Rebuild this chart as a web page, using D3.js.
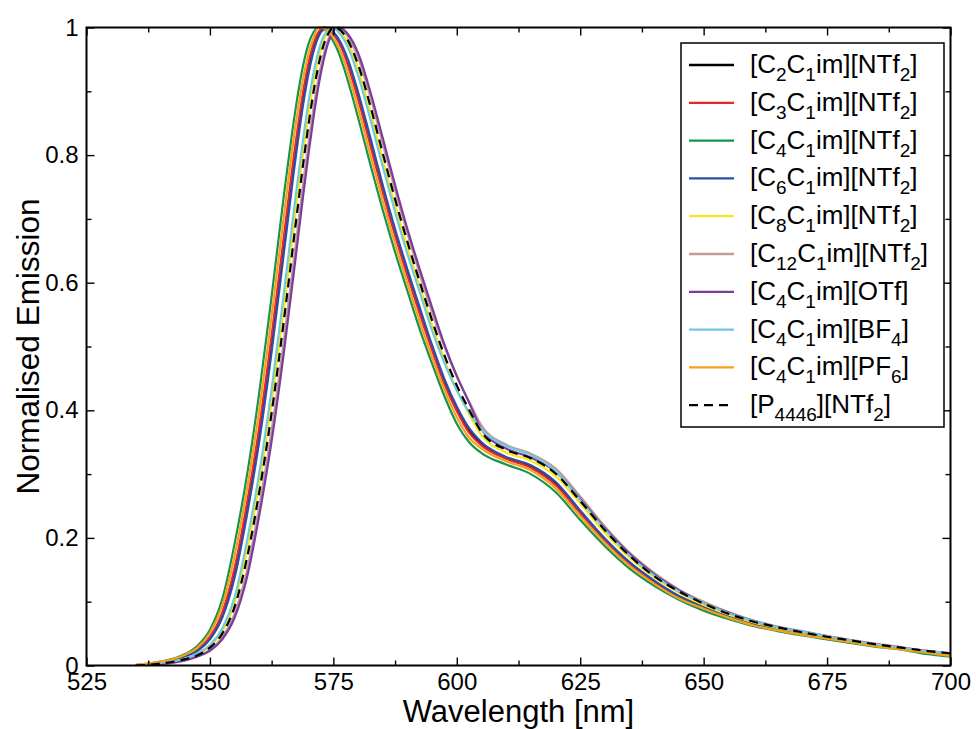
<!DOCTYPE html>
<html><head><meta charset="utf-8">
<script src="https://cdn.jsdelivr.net/npm/d3@7"></script>
<style>body{margin:0;background:#fff}</style>
</head><body>
<svg id="chart" width="976" height="729"></svg>
<script>
// ---------- DATA ----------
const wavelengths = [535,540,545,547.5,550,552.5,555,557.5,560,562.5,565,567.5,569,570,571,572,573,574,575,576,577,578,580,582.5,585,587.5,590,592.5,595,597.5,600,602.5,605,610,615,620,625,630,635,640,645,650,655,660,665,670,675,680,685,690,695,700];

const c2c1NTf2 = [0.000,0.005,0.015,0.024,0.043,0.079,0.145,0.245,0.363,0.505,0.661,0.815,0.895,0.937,0.969,0.989,1.000,0.998,0.992,0.980,0.965,0.944,0.893,0.821,0.748,0.679,0.616,0.556,0.498,0.446,0.402,0.368,0.348,0.325,0.312,0.286,0.241,0.198,0.160,0.131,0.108,0.091,0.076,0.065,0.056,0.049,0.043,0.037,0.031,0.026,0.021,0.017];
const c3c1NTf2 = [0.000,0.005,0.015,0.026,0.045,0.083,0.153,0.254,0.374,0.517,0.674,0.827,0.905,0.945,0.975,0.993,1.000,0.998,0.990,0.978,0.962,0.940,0.888,0.815,0.742,0.674,0.611,0.551,0.494,0.441,0.399,0.365,0.345,0.324,0.310,0.283,0.239,0.196,0.159,0.130,0.107,0.090,0.076,0.064,0.056,0.049,0.042,0.036,0.031,0.026,0.021,0.017];
const c4c1NTf2 = [0.001,0.006,0.018,0.031,0.056,0.104,0.191,0.298,0.428,0.579,0.738,0.880,0.945,0.975,0.993,1.000,0.998,0.990,0.978,0.962,0.940,0.915,0.859,0.785,0.714,0.648,0.587,0.527,0.473,0.422,0.379,0.350,0.333,0.315,0.300,0.272,0.228,0.187,0.152,0.125,0.103,0.086,0.073,0.062,0.054,0.047,0.041,0.035,0.029,0.025,0.018,0.014];
const c6c1NTf2 = [0.000,0.005,0.014,0.023,0.041,0.075,0.138,0.236,0.352,0.492,0.648,0.804,0.885,0.929,0.963,0.986,0.997,1.000,0.993,0.983,0.968,0.949,0.899,0.827,0.753,0.684,0.621,0.561,0.502,0.449,0.406,0.372,0.350,0.327,0.314,0.288,0.243,0.199,0.162,0.133,0.109,0.092,0.077,0.066,0.057,0.050,0.043,0.037,0.031,0.026,0.021,0.018];
const c8c1NTf2 = [0.000,0.003,0.010,0.017,0.030,0.053,0.098,0.181,0.285,0.412,0.560,0.719,0.810,0.865,0.913,0.951,0.979,0.994,1.000,0.996,0.988,0.975,0.935,0.868,0.794,0.722,0.656,0.594,0.534,0.479,0.432,0.394,0.361,0.334,0.321,0.297,0.254,0.208,0.169,0.138,0.114,0.095,0.080,0.068,0.059,0.052,0.045,0.038,0.032,0.027,0.022,0.018];
const c12c1NTf2 = [0.000,0.002,0.009,0.015,0.025,0.044,0.081,0.149,0.250,0.369,0.511,0.668,0.764,0.821,0.875,0.921,0.957,0.982,0.996,1.000,0.995,0.985,0.953,0.891,0.818,0.745,0.677,0.613,0.553,0.500,0.453,0.414,0.376,0.346,0.332,0.309,0.265,0.218,0.177,0.145,0.119,0.100,0.084,0.071,0.061,0.054,0.046,0.040,0.034,0.029,0.023,0.019];
const c4c1OTf = [0.000,0.002,0.008,0.014,0.023,0.041,0.075,0.138,0.236,0.352,0.492,0.648,0.744,0.804,0.860,0.909,0.948,0.977,0.994,1.000,0.997,0.989,0.960,0.899,0.827,0.753,0.684,0.621,0.561,0.503,0.454,0.412,0.370,0.340,0.326,0.304,0.261,0.215,0.175,0.143,0.118,0.098,0.083,0.070,0.060,0.053,0.046,0.039,0.033,0.028,0.023,0.019];
const c4c1BF4 = [0.000,0.004,0.011,0.019,0.032,0.058,0.107,0.195,0.302,0.433,0.585,0.744,0.832,0.885,0.929,0.963,0.986,0.997,1.000,0.993,0.983,0.968,0.925,0.856,0.782,0.711,0.645,0.585,0.525,0.474,0.431,0.397,0.370,0.344,0.330,0.305,0.259,0.213,0.172,0.141,0.116,0.098,0.082,0.070,0.060,0.053,0.046,0.039,0.033,0.028,0.023,0.019];
const c4c1PF6 = [0.001,0.006,0.017,0.028,0.051,0.094,0.172,0.276,0.401,0.548,0.706,0.855,0.925,0.960,0.984,1.000,0.999,0.994,0.984,0.970,0.951,0.928,0.874,0.800,0.728,0.661,0.599,0.539,0.483,0.432,0.389,0.357,0.340,0.320,0.306,0.278,0.234,0.192,0.156,0.128,0.105,0.089,0.075,0.063,0.055,0.048,0.042,0.036,0.030,0.025,0.020,0.015];
const p4446NTf2 = [0.000,0.003,0.010,0.016,0.028,0.050,0.092,0.168,0.272,0.396,0.542,0.700,0.793,0.849,0.900,0.941,0.972,0.991,1.000,0.998,0.991,0.979,0.942,0.877,0.803,0.731,0.664,0.601,0.541,0.486,0.439,0.401,0.366,0.338,0.325,0.301,0.258,0.212,0.172,0.140,0.116,0.097,0.081,0.069,0.060,0.052,0.045,0.039,0.033,0.028,0.023,0.019];

// legend labels as [text, isSubscript] segments
const legendLabels = [
  [["[C",0],["2",1],["C",0],["1",1],["im][NTf",0],["2",1],["]",0]],
  [["[C",0],["3",1],["C",0],["1",1],["im][NTf",0],["2",1],["]",0]],
  [["[C",0],["4",1],["C",0],["1",1],["im][NTf",0],["2",1],["]",0]],
  [["[C",0],["6",1],["C",0],["1",1],["im][NTf",0],["2",1],["]",0]],
  [["[C",0],["8",1],["C",0],["1",1],["im][NTf",0],["2",1],["]",0]],
  [["[C",0],["12",1],["C",0],["1",1],["im][NTf",0],["2",1],["]",0]],
  [["[C",0],["4",1],["C",0],["1",1],["im][OTf]",0]],
  [["[C",0],["4",1],["C",0],["1",1],["im][BF",0],["4",1],["]",0]],
  [["[C",0],["4",1],["C",0],["1",1],["im][PF",0],["6",1],["]",0]],
  [["[P",0],["4446",1],["][NTf",0],["2",1],["]",0]]
];
const seriesValues = [c2c1NTf2,c3c1NTf2,c4c1NTf2,c6c1NTf2,c8c1NTf2,c12c1NTf2,c4c1OTf,c4c1BF4,c4c1PF6,p4446NTf2];
const seriesColors = ["#000000","#e8262b","#17944a","#2f4fa8","#f6e81a","#c29a9a","#7b3c9c","#72c8dd","#f5a11c","#000000"];
const seriesDash = [null,null,null,null,null,null,null,null,null,"9,6"];

const xTicks = [525,550,575,600,625,650,675,700];
const xMinorTicks = [537.5,562.5,587.5,612.5,637.5,662.5,687.5];
const yTicks = [0,0.2,0.4,0.6,0.8,1];
const yTickLabels = ["0","0.2","0.4","0.6","0.8","1"];
const yMinorTicks = [0.1,0.3,0.5,0.7,0.9];
const xTitle = "Wavelength [nm]";
const yTitle = "Normalised Emission";

// ---------- CHART ----------
const svg = d3.select("#chart");
const L = 86.5, R = 950.5, T = 27.5, B = 665.5;
const x = d3.scaleLinear().domain([525,700]).range([L,R]);
const y = d3.scaleLinear().domain([0,1]).range([B,T]);
const font = "'Liberation Sans', Arial, Helvetica, sans-serif";

svg.append("defs").append("clipPath").attr("id","clip")
  .append("rect").attr("x",L).attr("y",T-2).attr("width",R-L).attr("height",B-T+2);

// lines
const line = d3.line().x(d=>x(d[0])).y(d=>y(d[1])).curve(d3.curveMonotoneX);
const lg = svg.append("g").attr("clip-path","url(#clip)");
seriesValues.forEach((vals,i)=>{
  const pts = wavelengths.map((w,j)=>[w,vals[j]]);
  lg.append("path").attr("d",line(pts)).attr("fill","none")
    .attr("stroke",seriesColors[i]).attr("stroke-width",2.2)
    .attr("stroke-linejoin","round")
    .attr("stroke-dasharray",seriesDash[i]);
});

// axes
function styleAxis(g){
  g.select(".domain").remove();
  g.selectAll(".tick line").attr("stroke","#000").attr("stroke-width",1.4);
  g.selectAll("text").attr("font-family",font).attr("font-size",24).attr("fill","#000");
}
svg.append("g").attr("transform",`translate(0,${B})`)
  .call(d3.axisBottom(x).tickValues(xTicks).tickSize(-8).tickPadding(7.5).tickFormat(d3.format("d")))
  .call(styleAxis);
svg.append("g").attr("transform",`translate(0,${B})`)
  .call(d3.axisBottom(x).tickValues(xMinorTicks).tickSize(-5).tickFormat(""))
  .call(styleAxis);
svg.append("g").attr("transform",`translate(0,${T})`)
  .call(d3.axisTop(x).tickValues(xTicks).tickSize(-8).tickFormat(""))
  .call(styleAxis);
svg.append("g").attr("transform",`translate(0,${T})`)
  .call(d3.axisTop(x).tickValues(xMinorTicks).tickSize(-5).tickFormat(""))
  .call(styleAxis);
svg.append("g").attr("transform",`translate(${L},0)`)
  .call(d3.axisLeft(y).tickValues(yTicks).tickSize(-8).tickPadding(8).tickFormat((d,i)=>yTickLabels[i]))
  .call(styleAxis);
svg.append("g").attr("transform",`translate(${L},0)`)
  .call(d3.axisLeft(y).tickValues(yMinorTicks).tickSize(-5).tickFormat(""))
  .call(styleAxis);
svg.append("g").attr("transform",`translate(${R},0)`)
  .call(d3.axisRight(y).tickValues(yTicks).tickSize(-8).tickFormat(""))
  .call(styleAxis);
svg.append("g").attr("transform",`translate(${R},0)`)
  .call(d3.axisRight(y).tickValues(yMinorTicks).tickSize(-5).tickFormat(""))
  .call(styleAxis);

// frame
svg.append("rect").attr("x",L).attr("y",T).attr("width",R-L).attr("height",B-T)
  .attr("fill","none").attr("stroke","#000").attr("stroke-width",2);

// titles
svg.append("text").attr("x",(L+R)/2).attr("y",722).attr("text-anchor","middle")
  .attr("font-family",font).attr("font-size",31).text(xTitle);
svg.append("text").attr("transform",`translate(39,${(T+B)/2}) rotate(-90)`)
  .attr("text-anchor","middle").attr("font-family",font).attr("font-size",31.5).text(yTitle);

// legend
const leg = svg.append("g");
leg.append("rect").attr("x",681).attr("y",43).attr("width",263).attr("height",384)
  .attr("fill","#fff").attr("stroke","#000").attr("stroke-width",1.5);
legendLabels.forEach((segs,i)=>{
  const cy = 65 + i*37.8;
  leg.append("line").attr("x1",689).attr("x2",734).attr("y1",cy).attr("y2",cy)
    .attr("stroke",seriesColors[i]).attr("stroke-width",2.3)
    .attr("stroke-dasharray",seriesDash[i]);
  const t = leg.append("text").attr("x",750).attr("y",cy+8)
    .attr("font-family",font).attr("font-size",26).attr("fill","#000");
  let sub = false;
  segs.forEach(([s,isSub])=>{
    const ts = t.append("tspan").text(s);
    if(isSub && !sub){ ts.attr("dy",8).attr("font-size",19); sub=true; }
    else if(isSub){ ts.attr("font-size",19); }
    else if(!isSub && sub){ ts.attr("dy",-8); sub=false; }
  });
});
</script>
</body></html>
